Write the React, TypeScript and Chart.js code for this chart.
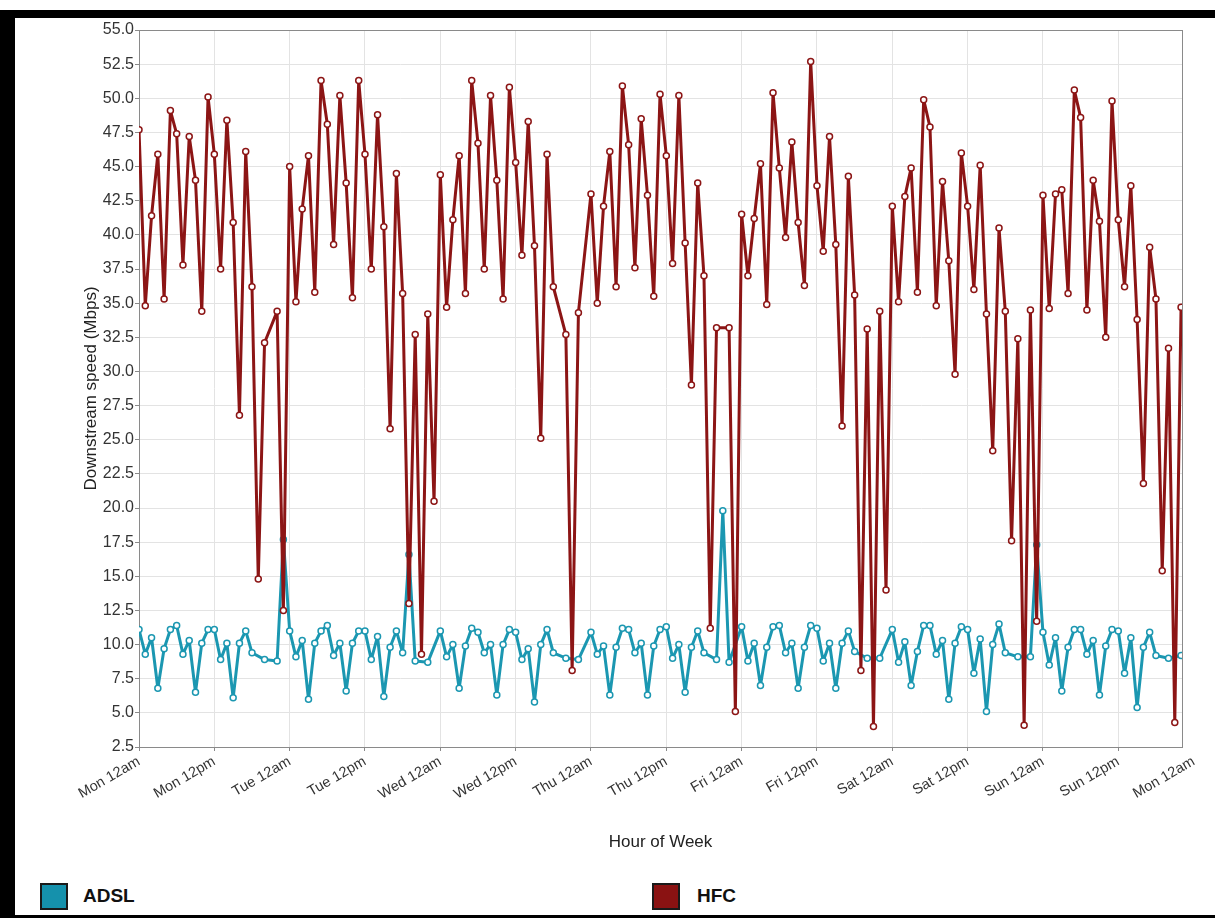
import { useEffect, useRef } from "react";
import { Chart, registerables } from "chart.js";

Chart.register(...registerables);

// Hour-of-week tick positions and labels
const TICK_HOURS = [0, 12, 24, 36, 48, 60, 72, 84, 96, 108, 120, 132, 144, 156, 168];
const TICK_LABELS = [
  "Mon 12am", "Mon 12pm", "Tue 12am", "Tue 12pm", "Wed 12am", "Wed 12pm",
  "Thu 12am", "Thu 12pm", "Fri 12am", "Fri 12pm", "Sat 12am", "Sat 12pm",
  "Sun 12am", "Sun 12pm", "Mon 12am",
];

const SERIES_NAMES = ["ADSL", "HFC"];

// Downstream speed (Mbps) per hour of week, hour 0 .. 166 (null = no sample)
const ADSL_SPEEDS: (number | null)[] = [
  11.1, 9.3, 10.5, 6.8, 9.7, 11.1, 11.4, 9.3, 10.3, 6.5, 10.1, 11.1,
  11.1, 8.9, 10.1, 6.1, 10.1, 11.0, 9.4, null, 8.9, null, 8.8, 17.7,
  11.0, 9.1, 10.3, 6.0, 10.1, 11.0, 11.4, 9.2, 10.1, 6.6, 10.1, 11.0,
  11.0, 8.9, 10.6, 6.2, 9.8, 11.0, 9.4, 16.6, 8.8, null, 8.7, null,
  11.0, 9.1, 10.0, 6.8, 9.9, 11.2, 10.9, 9.4, 10.0, 6.3, 10.0, 11.1,
  10.9, 8.9, 9.7, 5.8, 10.0, 11.1, 9.4, null, 9.0, null, 8.9, null,
  10.9, 9.3, 9.9, 6.3, 9.8, 11.2, 11.1, 9.4, 10.1, 6.3, 9.9, 11.1,
  11.3, 9.0, 10.0, 6.5, 9.8, 11.0, 9.4, null, 8.9, 19.8, 8.7, null,
  11.3, 8.8, 10.1, 7.0, 9.8, 11.3, 11.4, 9.4, 10.1, 6.8, 9.8, 11.4,
  11.2, 8.8, 10.1, 6.8, 10.1, 11.0, 9.5, null, 9.0, null, 9.0, null,
  11.1, 8.7, 10.2, 7.0, 9.5, 11.4, 11.4, 9.3, 10.3, 6.0, 10.1, 11.3,
  11.1, 7.9, 10.4, 5.1, 10.0, 11.5, 9.4, null, 9.1, null, 9.1, 17.3,
  10.9, 8.5, 10.5, 6.6, 9.8, 11.1, 11.1, 9.3, 10.3, 6.3, 9.9, 11.1,
  11.0, 7.9, 10.5, 5.4, 9.8, 10.9, 9.2, null, 9.0, null, 9.2,
];

const HFC_SPEEDS: (number | null)[] = [
  47.7, 34.8, 41.4, 45.9, 35.3, 49.1, 47.4, 37.8, 47.2, 44.0, 34.4, 50.1,
  45.9, 37.5, 48.4, 40.9, 26.8, 46.1, 36.2, 14.8, 32.1, null, 34.4, 12.5,
  45.0, 35.1, 41.9, 45.8, 35.8, 51.3, 48.1, 39.3, 50.2, 43.8, 35.4, 51.3,
  45.9, 37.5, 48.8, 40.6, 25.8, 44.5, 35.7, 13.0, 32.7, 9.3, 34.2, 20.5,
  44.4, 34.7, 41.1, 45.8, 35.7, 51.3, 46.7, 37.5, 50.2, 44.0, 35.3, 50.8,
  45.3, 38.5, 48.3, 39.2, 25.1, 45.9, 36.2, null, 32.7, 8.1, 34.3, null,
  43.0, 35.0, 42.1, 46.1, 36.2, 50.9, 46.6, 37.6, 48.5, 42.9, 35.5, 50.3,
  45.8, 37.9, 50.2, 39.4, 29.0, 43.8, 37.0, 11.2, 33.2, null, 33.2, 5.1,
  41.5, 37.0, 41.2, 45.2, 34.9, 50.4, 44.9, 39.8, 46.8, 40.9, 36.3, 52.7,
  43.6, 38.8, 47.2, 39.3, 26.0, 44.3, 35.6, 8.1, 33.1, 4.0, 34.4, 14.0,
  42.1, 35.1, 42.8, 44.9, 35.8, 49.9, 47.9, 34.8, 43.9, 38.1, 29.8, 46.0,
  42.1, 36.0, 45.1, 34.2, 24.2, 40.5, 34.4, 17.6, 32.4, 4.1, 34.5, 11.7,
  42.9, 34.6, 43.0, 43.3, 35.7, 50.6, 48.6, 34.5, 44.0, 41.0, 32.5, 49.8,
  41.1, 36.2, 43.6, 33.8, 21.8, 39.1, 35.3, 15.4, 31.7, 4.3, 34.7,
];

const Y_MIN = 2.5;
const Y_MAX = 55;
const Y_STEP = 2.5;
const X_MAX = 166.15;

const ADSL_COLOR = "#1b97b1";
const HFC_COLOR = "#8c1515";
const ADSL_BOX = "#1591ac";
const HFC_BOX = "#8a1212";
const GRID_COLOR = "#e3e3e3";
const AXIS_COLOR = "#8a8a8a";
const FONT = "'Liberation Sans', Arial, Helvetica, sans-serif";

const toPoints = (arr: (number | null)[]) => arr.map((v, i) => ({ x: i, y: v }));

const plotFrame = {
  id: "plotFrame",
  beforeDatasetsDraw(chart: any) {
    const { ctx, chartArea } = chart;
    ctx.save();
    ctx.strokeStyle = AXIS_COLOR;
    ctx.lineWidth = 1;
    ctx.strokeRect(
      Math.round(chartArea.left) + 0.5,
      Math.round(chartArea.top) + 0.5,
      Math.round(chartArea.right - chartArea.left),
      Math.round(chartArea.bottom - chartArea.top)
    );
    ctx.restore();
  },
};

const inRange = (ctx: any) => !(ctx.tick && ctx.tick.value > X_MAX);

export default function App() {
  const canvasRef = useRef<HTMLCanvasElement | null>(null);

  useEffect(() => {
    const canvas = canvasRef.current;
    if (!canvas) return;
    const lineDataset = (label: string, data: (number | null)[], color: string, order: number) => ({
      label,
      data: toPoints(data),
      borderColor: color,
      backgroundColor: "#ffffff",
      borderWidth: 3,
      borderJoinStyle: "round",
      borderCapStyle: "round",
      pointRadius: 3,
      pointBorderWidth: 1.5,
      pointBackgroundColor: "#ffffff",
      pointBorderColor: color,
      spanGaps: true,
      tension: 0,
      order,
    });
    const chart = new Chart(canvas, {
      type: "line",
      data: {
        datasets: [
          lineDataset(SERIES_NAMES[0], ADSL_SPEEDS, ADSL_COLOR, 1),
          lineDataset(SERIES_NAMES[1], HFC_SPEEDS, HFC_COLOR, 0),
        ],
      },
      options: {
        animation: false,
        responsive: false,
        layout: { padding: { left: 0, right: 33, top: 30, bottom: 0 } },
        plugins: { legend: { display: false }, tooltip: { enabled: false } },
        scales: {
          x: {
            type: "linear",
            min: 0,
            max: X_MAX,
            afterBuildTicks: (scale: any) => {
              scale.ticks = TICK_HOURS.map((v) => ({ value: v }));
            },
            afterFit: (scale: any) => {
              scale.height = 113;
              scale.paddingLeft = 0;
              scale.paddingRight = 0;
            },
            ticks: {
              autoSkip: false,
              minRotation: 30,
              maxRotation: 30,
              padding: 2,
              color: "#333333",
              font: { family: FONT, size: 14.5 },
              callback: (_v: any, i: number) => TICK_LABELS[i],
            },
            grid: {
              color: (ctx: any) => (inRange(ctx) ? GRID_COLOR : "rgba(0,0,0,0)"),
              tickColor: (ctx: any) => (inRange(ctx) ? AXIS_COLOR : "rgba(0,0,0,0)"),
              tickLength: 4,
              lineWidth: 1,
            },
            border: { color: AXIS_COLOR },
            title: {
              display: true,
              text: "Hour of Week",
              color: "#222222",
              font: { family: FONT, size: 17 },
              padding: { top: 0, bottom: 7 },
            },
          },
          y: {
            min: Y_MIN,
            max: Y_MAX,
            afterFit: (scale: any) => {
              scale.width = 139;
            },
            ticks: {
              stepSize: Y_STEP,
              padding: 1,
              color: "#333333",
              font: { family: FONT, size: 16 },
              callback: (v: any) => Number(v).toFixed(1),
            },
            grid: { color: GRID_COLOR, tickColor: AXIS_COLOR, tickLength: 4, lineWidth: 1 },
            border: { color: AXIS_COLOR },
            title: {
              display: true,
              text: "Downstream speed (Mbps)",
              color: "#222222",
              font: { family: FONT, size: 17 },
              padding: { top: 81, bottom: 0 },
            },
          },
        },
      },
      plugins: [plotFrame],
    } as any);
    return () => chart.destroy();
  }, []);

  const legendItems = [
    { name: SERIES_NAMES[0], color: ADSL_BOX, left: 40, textLeft: 83 },
    { name: SERIES_NAMES[1], color: HFC_BOX, left: 652, textLeft: 697 },
  ];

  return (
    <div style={{ position: "absolute", left: 0, top: 0, width: 1215, height: 918, background: "#ffffff", overflow: "hidden" }}>
      <canvas
        ref={canvasRef}
        width={1215}
        height={860}
        style={{ position: "absolute", left: 0, top: 0, width: 1215, height: 860 }}
      />
      <div style={{ position: "absolute", left: 0, top: 10, width: 1215, height: 8, background: "#000" }} />
      <div style={{ position: "absolute", left: 0, top: 10, width: 15, height: 908, background: "#000" }} />
      <div style={{ position: "absolute", left: 15, top: 915, width: 1200, height: 3, background: "#000" }} />
      {legendItems.map((it) => (
        <div key={it.name}>
          <div
            style={{
              position: "absolute", left: it.left, top: 883, width: 24, height: 23,
              background: it.color, border: "2px solid #1a1a1a",
            }}
          />
          <div
            style={{
              position: "absolute", left: it.textLeft, top: 884, height: 24, lineHeight: "24px",
              fontFamily: FONT, fontWeight: "bold", fontSize: 19, color: "#111",
            }}
          >
            {it.name}
          </div>
        </div>
      ))}
    </div>
  );
}
